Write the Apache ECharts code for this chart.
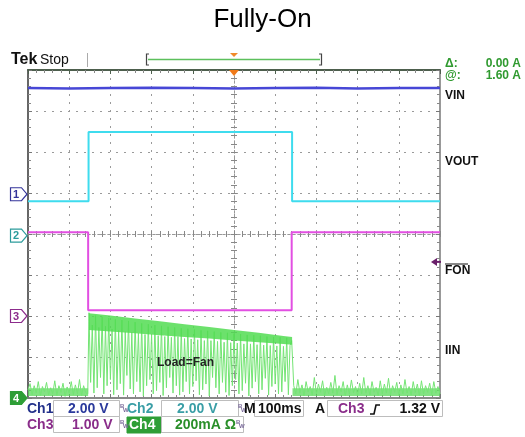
<!DOCTYPE html>
<html><head><meta charset="utf-8">
<script src="https://cdn.jsdelivr.net/npm/echarts@6/dist/echarts.min.js"></script>
<style>html,body{margin:0;padding:0;background:#fff}#c{width:525px;height:437px}</style>
</head><body><div id="c"></div>
<script>
// ---- data (x: ms, 100 ms/div; y: screen divisions, 0 = centre) ----
const vinT = [0,100,200,300,400,500,600,700,800,900,1000];
const vinV = [3.56,3.55,3.56,3.57,3.56,3.55,3.56,3.57,3.55,3.56,3.56];
const voutT = [0,147,147,641,641,1000];
const voutV = [0.80,0.80,2.49,2.49,0.80,0.80];
const fonT = [0,146,146,640,640,1000];
const fonV = [0.04,0.04,-1.86,-1.86,0.04,0.04];
// IIN samples: pre-load noise, fan running (spiky), post-load noise
const iinPreT0 = 0, iinPreDt = 5;
const iinPreV = [-3.8,-3.65,-3.92,-3.7,-3.88,-3.6,-3.95,-3.72,-3.85,-3.62,
  -3.93,-3.75,-3.9,-3.58,-3.94,-3.7,-3.86,-3.64,-3.96,-3.73,
  -3.88,-3.6,-3.92,-3.68,-3.9,-3.55,-3.95,-3.7,-3.87,-3.9];
const iinActT0 = 148, iinActDt = 4;
const iinActV = [
  -1.92,-3.62,-2.22,-3.88, -1.99,-3.75,-2.28,-3.5, -2.02,-3.9,-2.25,-3.7,
  -2.05,-3.55,-2.32,-3.92, -2.08,-3.8,-2.35,-3.65, -2.1,-3.93,-2.38,-3.45,
  -2.12,-3.78,-2.4,-3.9, -2.15,-3.6,-2.42,-3.85, -2.18,-3.95,-2.45,-3.7,
  -2.2,-3.55,-2.44,-3.9, -2.22,-3.82,-2.48,-3.62, -2.24,-3.94,-2.5,-3.75,
  -2.26,-3.5,-2.52,-3.88, -2.28,-3.7,-2.5,-3.93, -2.3,-3.85,-2.55,-3.6,
  -2.31,-3.9,-2.56,-3.72, -2.33,-3.58,-2.58,-3.92, -2.35,-3.8,-2.6,-3.66,
  -2.36,-3.95,-2.6,-3.5, -2.38,-3.75,-2.62,-3.9, -2.4,-3.62,-2.64,-3.86,
  -2.41,-3.94,-2.65,-3.7, -2.43,-3.55,-2.66,-3.9, -2.44,-3.82,-2.68,-3.64,
  -2.46,-3.95,-2.68,-3.76, -2.47,-3.6,-2.7,-3.9, -2.48,-3.8,-2.71,-3.52,
  -2.5,-3.93,-2.72,-3.72, -2.51,-3.66,-2.73,-3.9, -2.52,-3.85,-2.74,-3.6,
  -2.53,-3.92,-2.72,-2.6];
const iinPostT0 = 645, iinPostDt = 5;
const iinPostV = [-3.7,-3.9,-3.55,-3.88,-3.68,-3.95,-3.6,-3.85,-3.72,-3.93,-3.5,-3.9,
  -3.66,-3.86,-3.58,-3.94,-3.74,-3.9,-3.62,-3.88,-3.45,-3.92,-3.7,-3.85,
  -3.6,-3.95,-3.68,-3.9,-3.56,-3.87,-3.72,-3.94,-3.64,-3.9,-3.5,-3.88,
  -3.7,-3.93,-3.6,-3.86,-3.74,-3.95,-3.58,-3.9,-3.66,-3.88,-3.52,-3.92,
  -3.7,-3.86,-3.62,-3.94,-3.68,-3.9,-3.55,-3.88,-3.72,-3.93,-3.6,-3.87,
  -3.66,-3.95,-3.58,-3.9,-3.7,-3.86,-3.64,-3.92,-3.6,-3.88,-3.72,-3.9];
// dense IIN envelopes (fan running band, and idle noise floor)
const bandT   = [148,200,260,320,380,440,500,560,620,641];
const bandTop = [-1.93,-1.99,-2.06,-2.13,-2.2,-2.27,-2.34,-2.41,-2.49,-2.51];
const bandLow = [-2.34,-2.38,-2.42,-2.47,-2.51,-2.55,-2.6,-2.64,-2.68,-2.7];
const floorPreT = [0,146], floorPostT = [642,1000];
const floorTop = [-3.76,-3.76], floorLow = [-3.95,-3.95];
// channel ground markers & trigger level (divisions)
const markerNames = ['1','2','3','4'];
const markerLevels = [0.97, -0.04, -2.0, -4.0];
const triggerLevel = -0.68;
const rightLabels = ['VIN','VOUT','FON','IIN'];

const pair = (T, V) => T.map((t, i) => [t, V[i]]);
const seq = (t0, dt, V) => V.map((v, i) => [t0 + i * dt, v]);
const iinData = seq(iinPreT0, iinPreDt, iinPreV)
  .concat(seq(iinActT0, iinActDt, iinActV))
  .concat(seq(iinPostT0, iinPostDt, iinPostV));

const G = {left: 28, top: 70, right: 85, bottom: 39};
const dotted = {color: '#9a9a9a', width: 1, type: [2, 6]};
function baseX(extra) {
  return Object.assign({type: 'value', min: 0, max: 1000, interval: 100,
    axisLabel: {show: false}, splitLine: {show: false},
    axisTick: {show: true, inside: true, length: 4, lineStyle: {color: '#777'}},
    minorTick: {show: true, splitNumber: 5, length: 3, lineStyle: {color: '#888'}}}, extra);
}
function baseY(extra) {
  return Object.assign({type: 'value', min: -4, max: 4, interval: 1,
    axisLabel: {show: false}, splitLine: {show: false},
    axisTick: {show: true, inside: true, length: 4, lineStyle: {color: '#777'}},
    minorTick: {show: true, splitNumber: 5, length: 3, lineStyle: {color: '#888'}}}, extra);
}
const centreX = (gi, inside) => ({gridIndex: gi, type: 'value', min: -5, max: 5, interval: 1,
  axisLine: {onZero: true, lineStyle: {color: '#999', type: [2, 3]}},
  axisLabel: {show: false}, splitLine: {show: false},
  axisTick: {show: true, inside: inside, length: 3, lineStyle: {color: '#888'}},
  minorTick: {show: true, splitNumber: 5, length: 3, lineStyle: {color: '#888'}}});
const centreY = (gi, inside) => ({gridIndex: gi, type: 'value', min: -4, max: 4, interval: 1,
  axisLine: {onZero: true, lineStyle: {color: '#999', type: [2, 3]}},
  axisLabel: {show: false}, splitLine: {show: false},
  axisTick: {show: true, inside: inside, length: 3, lineStyle: {color: '#888'}},
  minorTick: {show: true, splitNumber: 5, length: 3, lineStyle: {color: '#888'}}});

const chart = echarts.init(document.getElementById('c'));
const line = (data, color, width, z) => ({type: 'line', xAxisIndex: 0, yAxisIndex: 0, data: data,
  symbol: 'none', silent: true, z: z, lineStyle: {color: color, width: width}});
const envelope = (T, top, low, fill, op, z) => ({type: 'custom', xAxisIndex: 0, yAxisIndex: 0, data: [0], z: z, silent: true,
  renderItem: function (params, api) {
    const pts = [];
    for (let i = 0; i < T.length; i++) pts.push(api.coord([T[i], top[i]]));
    for (let i = T.length - 1; i >= 0; i--) pts.push(api.coord([T[i], low[i]]));
    return {type: 'polygon', shape: {points: pts}, style: {fill: fill, opacity: op}};
  }});

chart.setOption({
  animation: false,
  backgroundColor: '#fff',
  title: {text: 'Fully-On', left: 'center', top: 2,
    textStyle: {fontFamily: 'Liberation Sans', fontSize: 26, fontWeight: 'normal', color: '#000'}},
  grid: [Object.assign({}, G), Object.assign({}, G), Object.assign({}, G)],
  xAxis: [
    baseX({gridIndex: 0, position: 'bottom', axisLine: {show: true, onZero: false, lineStyle: {color: '#888', width: 2}},
      splitLine: {show: true, lineStyle: dotted}}),
    baseX({gridIndex: 0, position: 'top', axisLine: {show: true, onZero: false, lineStyle: {color: '#4d5f4d', width: 2}},
      axisTick: {show: true, inside: true, length: 4, lineStyle: {color: '#4d5f4d'}}}),
    centreX(1, true), centreX(2, false)
  ],
  yAxis: [
    baseY({gridIndex: 0, position: 'left', axisLine: {show: true, onZero: false, lineStyle: {color: '#666', width: 2}},
      splitLine: {show: true, lineStyle: dotted}}),
    baseY({gridIndex: 0, position: 'right', axisLine: {show: true, onZero: false, lineStyle: {color: '#999', width: 2}}}),
    centreY(1, true), centreY(2, false)
  ],
  series: [
    envelope(floorPreT, floorTop, floorLow, '#5ad85a', 0.75, 1),
    envelope(floorPostT, floorTop, floorLow, '#5ad85a', 0.75, 1),
    line(iinData, '#74e474', 1, 2),
    envelope(bandT, bandTop, bandLow, '#52dc52', 0.85, 3),
    line(pair(fonT, fonV), '#e24fe2', 2, 4),
    line(pair(voutT, voutV), '#3fdcee', 2, 5),
    line(pair(vinT, vinV), '#4747d6', 2.5, 6)
  ]
});

const px = (t, v) => chart.convertToPixel({gridIndex: 0}, [t, v]);
const F = 'Liberation Sans';
const NF = "'Liberation Sans Narrow','Liberation Sans'";
const g = [];
const txt = (s, x, y, font, fill, align) => g.push({type: 'text', z: 100, style: {text: s, x: x, y: y,
  font: font, fill: fill, align: align || 'left', verticalAlign: 'middle'}});
const rect = (x, y, w, h, stroke, fill) => g.push({type: 'rect', z: 99, shape: {x: x, y: y, width: w, height: h},
  style: {stroke: stroke || '#bdbdbd', fill: fill || 'none', lineWidth: 1}});
const poly = (points, fill, stroke) => g.push({type: 'polygon', z: 100, shape: {points: points},
  style: {fill: fill, stroke: stroke || 'none', lineWidth: 1.2}});
const seg = (pts, stroke, w) => g.push({type: 'polyline', z: 100, shape: {points: pts},
  style: {stroke: stroke, lineWidth: w || 1, fill: 'none'}});

// header
txt('Tek', 11, 60, 'bold 16px ' + F, '#111');
txt('Stop', 40, 60, '14px ' + F, '#111');
seg([[87.5, 53], [87.5, 67]], '#aaa', 1);
seg([[149, 54], [146.5, 54], [146.5, 65], [149, 65]], '#444', 1.2);
seg([[319, 54], [321.5, 54], [321.5, 65], [319, 65]], '#444', 1.2);
seg([[148, 59.5], [320, 59.5]], '#5cc05c', 1.5);
const trigX = px(500, 4)[0];
poly([[trigX - 4, 53], [trigX + 4, 53], [trigX, 57]], '#f08a2a');
poly([[trigX - 5, 70], [trigX + 5, 70], [trigX, 76]], '#f07a1a');

// right-hand readouts
txt('\u0394:', 445, 64, 'bold 12px ' + F, '#2f9a2f');
txt('0.00 A', 521, 64, 'bold 12px ' + F, '#2f9a2f', 'right');
txt('@:', 445, 76, 'bold 12px ' + F, '#2f9a2f');
txt('1.60 A', 521, 76, 'bold 12px ' + F, '#2f9a2f', 'right');
txt(rightLabels[0], 445, 96, 'bold 12px ' + NF, '#111');
txt(rightLabels[1], 445, 162, 'bold 12px ' + NF, '#111');
txt(rightLabels[2], 445, 271, 'bold 12px ' + NF, '#111');
seg([[445, 264], [468, 264]], '#111', 1);
txt(rightLabels[3], 445, 351, 'bold 12px ' + NF, '#111');

// trigger level arrow
const ty = px(1000, triggerLevel)[1];
poly([[431, ty], [437, ty - 4], [437, ty + 4]], '#6a1f6a');
seg([[436, ty], [441, ty]], '#6a1f6a', 2);

// channel markers
const mCol = ['#34349a', '#2c9c9c', '#8c2c8c', '#2e9e36'];
markerLevels.forEach((lv, i) => {
  const y = px(0, lv)[1];
  const shape = [[10.5, y - 6.5], [21.5, y - 6.5], [27, y], [21.5, y + 6.5], [10.5, y + 6.5]];
  if (i === 3) { poly(shape, mCol[i], mCol[i]); txt(markerNames[i], 16, y + 0.5, 'bold 11px ' + F, '#fff', 'center'); }
  else { poly(shape, '#fff', mCol[i]); txt(markerNames[i], 16, y + 0.5, 'bold 11px ' + F, mCol[i], 'center'); }
});

// annotation
txt('Load=Fan', 157, 363, 'bold 12px ' + NF, '#222');

// bottom status rows
const r1 = 409, r2 = 425;
const bw = (x, y) => { txt('B', x, y - 3, 'bold 6px ' + F, '#7a6a9a'); txt('W', x + 3, y + 1, 'bold 6px ' + F, '#7a6a9a'); };
txt('Ch1', 27, r1, 'bold 14px ' + F, '#22308a');
rect(53.5, r1 - 8.5, 66, 16);
txt('2.00 V', 68, r1, 'bold 14px ' + F, '#2b3a9c');
bw(120, r1);
txt('Ch2', 127, r1, 'bold 14px ' + F, '#3a9ea6');
rect(161.5, r1 - 8.5, 77, 16);
txt('2.00 V', 177, r1, 'bold 14px ' + F, '#3a9ea6');
bw(238, r1);
txt('M', 244, r1, 'bold 14px ' + F, '#111');
rect(254.5, r1 - 8.5, 49, 16);
txt('100ms', 258, r1, 'bold 14px ' + F, '#111');
txt('A', 315, r1, 'bold 14px ' + F, '#111');
rect(327.5, r1 - 8.5, 115, 16);
txt('Ch3', 338, r1, 'bold 14px ' + F, '#8a2d8a');
seg([[370, r1 + 5], [374, r1 + 5], [376, r1 - 4], [380, r1 - 4]], '#111', 1.6);
txt('1.32 V', 440, r1, 'bold 14px ' + F, '#111', 'right');

txt('Ch3', 27, r2, 'bold 14px ' + F, '#8a2d8a');
rect(53.5, r2 - 8.5, 66, 16);
txt('1.00 V', 72, r2, 'bold 14px ' + F, '#8a2d8a');
bw(120, r2);
rect(127, r2 - 8, 34, 16, '#2e9e36', '#2e9e36');
txt('Ch4', 129, r2, 'bold 14px ' + F, '#fff');
rect(161.5, r2 - 8.5, 82, 16);
txt('200mA \u03a9', 175, r2, 'bold 14px ' + F, '#2a8f2a');
bw(236, r2);

chart.setOption({graphic: g});
</script></body></html>
